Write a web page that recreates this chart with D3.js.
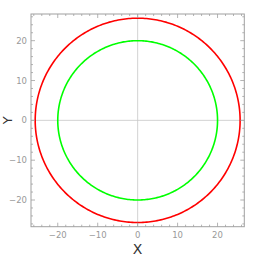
<!DOCTYPE html>
<html lang="en">
<head>
  <meta charset="UTF-8">
  <script src="https://d3js.org/d3.v7.min.js"></script>
  <style>
    body { margin: 0; background: #fff; }
    svg text { font-family: "DejaVu Sans", sans-serif; }
  </style>
</head>
<body>
  <svg width="259" height="257"></svg>
  <script>
    // circle radii and colours
    const radii = [25.65, 20];
    const colors = ["#ff0000", "#00ff00"];
    const majorTicks = [-20, -10, 0, 10, 20];
    const minorTicks = d3.range(-26, 27, 2);

    const svg = d3.select("svg");
    const fLeft = 31, fRight = 244.3, fTop = 14, fBottom = 226.7;
    const x = d3.scaleLinear().domain([-26.7, 26.7]).range([fLeft, fRight]);
    const y = d3.scaleLinear().domain([-26.7, 26.7]).range([fBottom, fTop]);

    // axes lines through origin
    svg.append("line")
      .attr("x1", fLeft).attr("x2", fRight)
      .attr("y1", y(0)).attr("y2", y(0))
      .attr("stroke", "#c8c8c8").attr("stroke-width", 0.8);
    svg.append("line")
      .attr("x1", x(0)).attr("x2", x(0))
      .attr("y1", fTop).attr("y2", fBottom)
      .attr("stroke", "#c8c8c8").attr("stroke-width", 0.8);

    // circles
    const line = d3.line().x(d => x(d[0])).y(d => y(d[1]));
    radii.forEach((r, i) => {
      const pts = d3.range(0, 361).map(a => [r * Math.cos(a * Math.PI / 180), r * Math.sin(a * Math.PI / 180)]);
      svg.append("path")
        .attr("d", line(pts))
        .attr("fill", "none")
        .attr("stroke", colors[i])
        .attr("stroke-width", 1.6);
    });

    // frame
    svg.append("rect")
      .attr("x", fLeft).attr("y", fTop)
      .attr("width", fRight - fLeft).attr("height", fBottom - fTop)
      .attr("fill", "none").attr("stroke", "#a0a0a0").attr("stroke-width", 1);

    const tickColor = "#a0a0a0";
    const tk = svg.append("g").attr("stroke", tickColor).attr("stroke-width", 0.8);
    const allTicks = minorTicks.map(v => ({v, major: v % 10 === 0}));
    allTicks.forEach(t => {
      const len = t.major ? 4 : 2;
      // bottom & top
      tk.append("line").attr("x1", x(t.v)).attr("x2", x(t.v)).attr("y1", fBottom).attr("y2", fBottom - len);
      tk.append("line").attr("x1", x(t.v)).attr("x2", x(t.v)).attr("y1", fTop).attr("y2", fTop + len);
      // left & right
      tk.append("line").attr("y1", y(t.v)).attr("y2", y(t.v)).attr("x1", fLeft).attr("x2", fLeft + len);
      tk.append("line").attr("y1", y(t.v)).attr("y2", y(t.v)).attr("x1", fRight).attr("x2", fRight - len);
    });

    // tick labels
    svg.append("g").selectAll("text").data(majorTicks).join("text")
      .attr("x", d => x(d)).attr("y", fBottom + 11)
      .attr("text-anchor", "middle")
      .attr("font-size", 8.5).attr("fill", "#999")
      .text(d => d < 0 ? "\u2212" + (-d) : d);
    svg.append("g").selectAll("text").data(majorTicks).join("text")
      .attr("x", fLeft - 4).attr("y", d => y(d) + 3)
      .attr("text-anchor", "end")
      .attr("font-size", 8.5).attr("fill", "#999")
      .text(d => d < 0 ? "\u2212" + (-d) : d);

    // axis labels
    svg.append("text")
      .attr("x", x(0)).attr("y", 254)
      .attr("text-anchor", "middle")
      .attr("font-size", 14).attr("fill", "#333")
      .text("X");
    svg.append("text")
      .attr("transform", `translate(12,${y(0)}) rotate(-90)`)
      .attr("text-anchor", "middle")
      .attr("font-size", 13).attr("fill", "#333")
      .text("Y");
  </script>
</body>
</html>
